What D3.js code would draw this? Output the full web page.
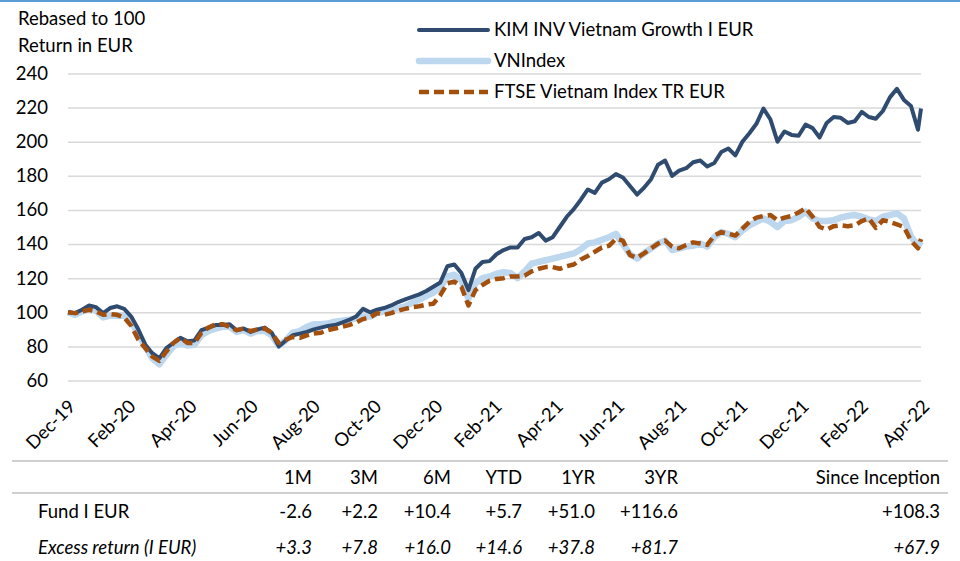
<!DOCTYPE html>
<html>
<head>
<meta charset="utf-8">
<script src="https://cdn.jsdelivr.net/npm/d3@7"></script>
<style>
  body { margin: 0; background: #fff; }
  svg { display: block; font-family: Lato, "Open Sans", sans-serif; }
</style>
</head>
<body>
<svg width="960" height="561"></svg>
<script>
// weekly observations
const dates = [
  "2019-12-31","2020-01-07","2020-01-14","2020-01-21","2020-01-28","2020-02-04","2020-02-11","2020-02-18","2020-02-25","2020-03-03",
  "2020-03-10","2020-03-17","2020-03-24","2020-03-31","2020-04-07","2020-04-14","2020-04-21","2020-04-28","2020-05-05","2020-05-12",
  "2020-05-19","2020-05-26","2020-06-02","2020-06-09","2020-06-16","2020-06-23","2020-06-30","2020-07-07","2020-07-14","2020-07-21",
  "2020-07-28","2020-08-04","2020-08-11","2020-08-18","2020-08-25","2020-09-01","2020-09-08","2020-09-15","2020-09-22","2020-09-29",
  "2020-10-06","2020-10-13","2020-10-20","2020-10-27","2020-11-03","2020-11-10","2020-11-17","2020-11-24","2020-12-01","2020-12-08",
  "2020-12-15","2020-12-22","2020-12-29","2021-01-05","2021-01-12","2021-01-19","2021-01-26","2021-02-02","2021-02-09","2021-02-16",
  "2021-02-23","2021-03-02","2021-03-09","2021-03-16","2021-03-23","2021-03-30","2021-04-06","2021-04-13","2021-04-20","2021-04-27",
  "2021-05-04","2021-05-11","2021-05-18","2021-05-25","2021-06-01","2021-06-08","2021-06-15","2021-06-22","2021-06-29","2021-07-06",
  "2021-07-13","2021-07-20","2021-07-27","2021-08-03","2021-08-10","2021-08-17","2021-08-24","2021-08-31","2021-09-07","2021-09-14",
  "2021-09-21","2021-09-28","2021-10-05","2021-10-12","2021-10-19","2021-10-26","2021-11-02","2021-11-09","2021-11-16","2021-11-23",
  "2021-11-30","2021-12-07","2021-12-14","2021-12-21","2021-12-28","2022-01-04","2022-01-11","2022-01-18","2022-01-25","2022-02-01",
  "2022-02-08","2022-02-15","2022-02-22","2022-03-01","2022-03-08","2022-03-15","2022-03-22","2022-03-29","2022-04-05","2022-04-12",
  "2022-04-19","2022-04-26","2022-04-29"
];

const fund = [
  100, 99.5, 101.5, 104, 103, 99.5, 102.5, 103.5, 102, 97.5,
  90, 81, 76, 73, 79, 82, 85, 83, 83.5, 89.5,
  91, 92.5, 92.5, 93, 89.5, 90.5, 88.5, 90, 91, 88,
  80, 83.5, 86.5, 87.5, 88.5, 90, 91, 92, 92.5, 94,
  95.5, 97.5, 102, 100, 101.5, 102.5, 104, 106, 107.5, 109,
  110.5, 112.5, 115, 117.5, 127, 128, 123, 113, 125.5, 129.5,
  130, 134, 136.5, 138, 138, 143, 144, 146.5, 142, 144,
  150, 156, 160.5, 166, 172, 170, 176, 178, 181, 179,
  174, 169, 173, 178, 186.5, 189, 180, 183, 184.5, 188,
  189, 185.5, 187.5, 194, 196, 192, 200, 205, 210.5, 219.5,
  213, 200, 206, 204, 203.5, 210, 208, 202.5, 211, 214.5,
  214, 211, 212, 217.5, 214.5, 213.5, 218, 226, 231, 224.5,
  221, 207, 219.5
];

const vnIndex = [
  100, 98.5, 100.5, 102, 101, 97, 98, 98, 98, 95,
  87, 80, 73, 69.5, 75, 80, 82, 80.5, 81, 86.5,
  89, 90.5, 91.5, 91.5, 88.5, 89.5, 87.5, 89, 89, 86.5,
  80.5, 83.5, 88, 89, 91.5, 93, 93, 93.5, 94.5, 95,
  95.5, 96.5, 97.5, 97.5, 99.5, 100.5, 101.5, 102.5, 103.5, 105.5,
  107.5, 109.5, 111.5, 114.5, 121, 122, 119, 108, 117, 120,
  121, 122.5, 123.5, 123, 120, 124, 128.5, 129.5, 130.5, 131.5,
  132.5, 133.5, 134.5, 137, 140.3, 141, 142.5, 144, 146, 140,
  134, 131.5, 134.5, 137.5, 140.3, 142, 136.5, 137.5, 138.5, 139,
  140.3, 138.5, 144, 147, 146, 144, 148, 151, 153, 155,
  153, 150, 153.5, 154, 156, 159, 155, 153.5, 153.5, 154,
  155.5, 156.5, 157, 156, 154.5, 153.5, 156, 157, 158, 155,
  144.5, 139, 141.5
];

const ftse = [
  100, 99.5, 100.5, 101.5, 100.5, 98.5, 99, 98.5, 97, 92,
  84, 79, 74, 71.5, 77, 82, 85, 82, 82, 88,
  91, 93, 93, 91.5, 89.5, 90.5, 89, 90, 90.5, 88,
  82, 84, 85.5, 85, 86.5, 87.5, 88, 89.5, 90.5, 91.5,
  92.5, 94, 96, 97, 99.5, 98.5, 99.5, 101, 102, 103,
  103.5, 104.5, 105, 110, 117, 118, 115, 104, 113, 116,
  118.5, 119.5, 120, 121, 121, 121.5, 124, 125.5, 126.5, 126.5,
  125.5, 127, 128, 131, 133, 135.5, 138, 139, 143, 142,
  133.5, 132, 134.5, 137.5, 140.3, 142, 138.5, 137.5, 139.5, 141,
  140.3, 139.5, 145, 147, 146, 145, 149, 153, 155.5, 156.5,
  157, 154, 155.5, 156.5, 158.5, 161, 156, 150, 148.5, 150.5,
  151, 150.5, 151, 153.5, 155, 149.5, 154, 153, 151.5, 150,
  142, 137.5, 143
];

const seriesNames = ["KIM INV Vietnam Growth I EUR", "VNIndex", "FTSE Vietnam Index TR EUR"];
const tickLabels = ["Dec-19","Feb-20","Apr-20","Jun-20","Aug-20","Oct-20","Dec-20","Feb-21","Apr-21","Jun-21","Aug-21","Oct-21","Dec-21","Feb-22","Apr-22"];
const yTicks = [60, 80, 100, 120, 140, 160, 180, 200, 220, 240];

const periods = ["1M", "3M", "6M", "YTD", "1YR", "3YR", "Since Inception"];
const fundRow = ["-2.6", "+2.2", "+10.4", "+5.7", "+51.0", "+116.6", "+108.3"];
const excessRow = ["+3.3", "+7.8", "+16.0", "+14.6", "+37.8", "+81.7", "+67.9"];

// layout
const plot = { left: 68, right: 921, top: 73.5, bottom: 380.5 };
const colRight = [312, 378, 451, 522, 595, 678, 940];
const fontSize = 18.5;
const darkBlue = "#2f4b6f", lightBlue = "#bdd7ee", brown = "#a3500f";

const svg = d3.select("svg");
const parse = d3.timeParse("%Y-%m-%d");
const dateVals = dates.map(parse);

const x = d3.scaleTime()
    .domain([dateVals[0], dateVals[dateVals.length - 1]])
    .range([plot.left, plot.right]);
const y = d3.scaleLinear().domain([60, 240]).range([plot.bottom, plot.top]);

// top rule
svg.append("rect").attr("x", 0).attr("y", 0).attr("width", 960).attr("height", 2).attr("fill", "#5b9bd5");

// titles
svg.append("text").attr("x", 18).attr("y", 25).attr("font-size", fontSize).text("Rebased to 100");
svg.append("text").attr("x", 18).attr("y", 52).attr("font-size", fontSize).text("Return in EUR");

// y axis + gridlines
const yAxis = svg.append("g")
    .attr("transform", `translate(${plot.left},0)`)
    .call(d3.axisLeft(y).tickValues(yTicks).tickSize(-(plot.right - plot.left)).tickPadding(20));
yAxis.select(".domain").remove();
yAxis.selectAll(".tick line").attr("stroke", "#d9d9d9").attr("stroke-width", 1.5);
yAxis.selectAll(".tick text").attr("font-size", fontSize).attr("font-family", "Lato, 'Open Sans', sans-serif").attr("fill", "#000");

// x labels (month-end ticks, rotated)
const monthParse = d3.timeParse("%b-%y");
svg.append("g").selectAll("text")
  .data(tickLabels)
  .join("text")
    .attr("transform", d => {
      const m = monthParse(d);
      const tx = x(d3.timeDay.offset(d3.timeMonth.offset(m, 1), -1));
      return `translate(${tx + 4},403) rotate(-45)`;
    })
    .attr("text-anchor", "end")
    .attr("dy", "0.35em")
    .attr("font-size", fontSize)
    .text(d => d);

// lines
const line = vals => d3.line()
    .x((d, i) => x(dateVals[i]))
    .y(d => y(d))(vals);

svg.append("path").attr("d", line(vnIndex)).attr("fill", "none")
    .attr("stroke", lightBlue).attr("stroke-width", 6.5).attr("stroke-linejoin", "round");
svg.append("path").attr("d", line(fund)).attr("fill", "none")
    .attr("stroke", darkBlue).attr("stroke-width", 4).attr("stroke-linejoin", "round");
svg.append("path").attr("d", line(ftse)).attr("fill", "none")
    .attr("stroke", brown).attr("stroke-width", 4.5).attr("stroke-dasharray", "10,5").attr("stroke-linejoin", "round");

// legend
const legendStyles = [
  { stroke: darkBlue, width: 4, dash: null, cap: "round" },
  { stroke: lightBlue, width: 6.5, dash: null, cap: "round" },
  { stroke: brown, width: 4.5, dash: "10,5", cap: "butt" }
];
const legend = svg.append("g").selectAll("g")
  .data(seriesNames)
  .join("g")
    .attr("transform", (d, i) => `translate(418,${30 + i * 31})`);
legend.append("line")
    .attr("x1", 1).attr("x2", 70)
    .attr("stroke", (d, i) => legendStyles[i].stroke)
    .attr("stroke-width", (d, i) => legendStyles[i].width)
    .attr("stroke-dasharray", (d, i) => legendStyles[i].dash)
    .attr("stroke-linecap", (d, i) => legendStyles[i].cap);
legend.append("text")
    .attr("x", 76).attr("dy", "0.35em")
    .attr("font-size", fontSize)
    .text(d => d);

// performance table
const table = svg.append("g");
[461, 493].forEach(ly => {
  table.append("line").attr("x1", 12).attr("x2", 948).attr("y1", ly).attr("y2", ly)
      .attr("stroke", "#d0d0d0").attr("stroke-width", 2);
});
const rows = [
  { label: "", cells: periods, y: 478, italic: false },
  { label: "Fund I EUR", cells: fundRow, y: 512, italic: false },
  { label: "Excess return (I EUR)", cells: excessRow, y: 548, italic: true }
];
rows.forEach(r => {
  const g = table.append("g").attr("font-style", r.italic ? "italic" : "normal");
  g.append("text").attr("x", 38).attr("y", r.y).attr("dy", "0.35em").attr("font-size", fontSize).text(r.label);
  g.selectAll("text.cell")
    .data(r.cells)
    .join("text")
      .attr("class", "cell")
      .attr("x", (d, i) => colRight[i])
      .attr("y", r.y)
      .attr("dy", "0.35em")
      .attr("text-anchor", "end")
      .attr("font-size", fontSize)
      .text(d => d);
});
</script>
</body>
</html>
